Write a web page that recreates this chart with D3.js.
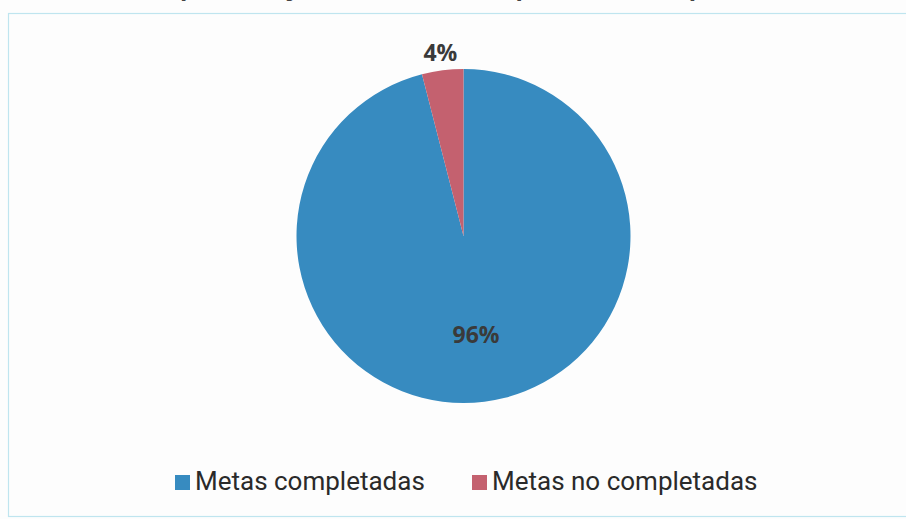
<!DOCTYPE html>
<html>
<head>
<meta charset="utf-8">
<script src="https://cdn.jsdelivr.net/npm/d3@7"></script>
<style>
  html, body { margin: 0; padding: 0; background: #fdfdfd; }
  svg { display: block; }
</style>
</head>
<body>
<div id="chart"></div>
<script>
// data
const labels = ["Metas completadas", "Metas no completadas"];
const values = [96, 4];
const colors = ["#378bc0", "#c4616f"];
const title = "¿Qué porcentaje de metas se completaron en el periodo?";

const width = 906, height = 519;
const cx = 463.5, cy = 236;
const radius = 167;

const svg = d3.select("#chart").append("svg")
    .attr("width", width)
    .attr("height", height);

// cut-off title at the very top of the scan (only descenders show)
svg.append("text")
    .attr("x", width / 2)
    .attr("y", -5)
    .attr("text-anchor", "middle")
    .attr("font-family", "Open Sans, sans-serif")
    .attr("font-weight", "bold")
    .attr("font-size", 24)
    .attr("fill", "#444")
    .text(title);

// frame
svg.append("rect")
    .attr("x", 8.5).attr("y", 13.5)
    .attr("width", 905).attr("height", 503)
    .attr("fill", "none")
    .attr("stroke", "#bfe5ef")
    .attr("stroke-width", 1.2);

const color = d3.scaleOrdinal(labels, colors);

const pie = d3.pie().sort(null).value(d => d.value);
const arcs = pie(labels.map((l, i) => ({label: l, value: values[i]})));

const arc = d3.arc().innerRadius(0).outerRadius(radius);
const inLabel = d3.arc().innerRadius(radius * 0.6).outerRadius(radius * 0.6);
const outLabel = d3.arc().innerRadius(radius + 18).outerRadius(radius + 18);

const g = svg.append("g").attr("transform", `translate(${cx},${cy})`);

g.selectAll("path")
  .data(arcs)
  .join("path")
    .attr("fill", d => color(d.data.label))
    .attr("d", arc);

g.selectAll("text")
  .data(arcs)
  .join("text")
    .attr("transform", d => `translate(${(d.data.value > 50 ? inLabel : outLabel).centroid(d)})`)
    .attr("dy", "0.35em")
    .attr("text-anchor", "middle")
    .attr("font-family", "Open Sans, sans-serif")
    .attr("font-weight", "bold")
    .attr("font-size", 23)
    .attr("fill", "#3a3a3a")
    .text(d => d.data.value + "%");

// legend
const legendX = [175, 472];
const legend = svg.append("g")
    .attr("font-family", "Roboto, sans-serif")
    .attr("font-size", 26)
    .attr("fill", "#2a2a2a");

const item = legend.selectAll("g")
  .data(labels)
  .join("g")
    .attr("transform", (d, i) => `translate(${legendX[i]},490)`);

item.append("rect")
    .attr("x", 0).attr("y", -15)
    .attr("width", 15).attr("height", 15)
    .attr("fill", d => color(d));

item.append("text")
    .attr("x", 20)
    .attr("y", 0)
    .text(d => d);
</script>
</body>
</html>
